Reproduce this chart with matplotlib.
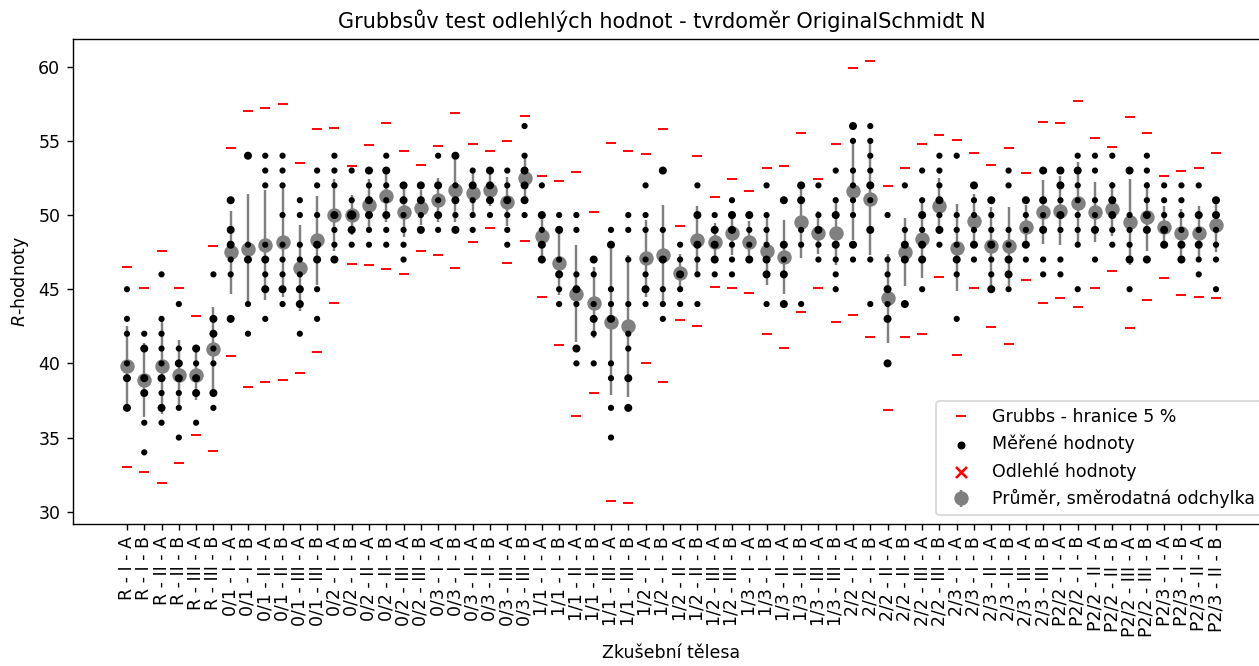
import numpy as np
import matplotlib
matplotlib.use("Agg")
import matplotlib.pyplot as plt

# Category labels (specimen - layer - side)
groups = ["R", "0/1", "0/2", "0/3", "1/1", "1/2", "1/3", "2/2", "2/3", "P2/2", "P2/3"]
positions = ["I - A", "I - B", "II - A", "II - B", "III - A", "III - B"]
labels = [f"{g} - {p}" for g in groups[:-1] for p in positions] + \
         [f"{groups[-1]} - {p}" for p in positions[:4]]

# measured R values (unique) and how many times each was hit
values = [
    [45, 43, 42, 40, 39, 37], [42, 41, 39, 38, 36, 34], [46, 43, 42, 41, 40, 39, 38, 37, 36],
    [44, 41, 40, 39, 38, 37, 35], [41, 40, 39, 38, 36], [46, 43, 42, 41, 40, 38, 37],
    [51, 49, 48, 47, 46, 43], [54, 48, 47, 44, 42], [54, 53, 52, 48, 47, 46, 45, 43],
    [54, 53, 52, 50, 48, 47, 46, 45, 44], [51, 50, 48, 47, 46, 45, 44, 42], [53, 52, 50, 48, 47, 45, 43],
    [54, 53, 52, 50, 49, 48, 47], [53, 51, 50, 49, 48], [53, 52, 51, 50, 49, 48],
    [54, 53, 52, 51, 50, 49, 48], [52, 51, 50, 49, 48, 47], [52, 51, 50, 49],
    [54, 52, 51, 50, 49], [54, 52, 51, 50, 49], [53, 52, 51, 50, 49],
    [53, 52, 51, 50], [53, 52, 51, 50, 49, 48], [56, 54, 53, 52, 51, 50],
    [52, 50, 49, 48, 47], [50, 49, 47, 46, 45, 44], [50, 49, 46, 45, 44, 41, 40],
    [47, 46, 44, 43, 42, 40], [49, 48, 45, 44, 43, 40, 39, 37, 35], [50, 49, 47, 44, 42, 41, 39, 37],
    [52, 50, 49, 47, 46, 45, 44], [53, 49, 47, 45, 44, 43], [48, 47, 46, 45, 44],
    [52, 50, 48, 47, 46, 44], [50, 49, 48, 47, 46], [51, 50, 49, 48, 47, 46],
    [50, 49, 48, 47], [52, 50, 49, 48, 47, 46, 44], [51, 48, 47, 46, 44],
    [52, 51, 49, 48, 44], [52, 50, 49, 48, 47], [53, 51, 50, 48, 47, 46, 45],
    [56, 55, 53, 52, 51, 50, 48, 47], [56, 55, 54, 53, 52, 51, 49, 47, 44], [50, 47, 46, 45, 44, 43, 40],
    [52, 49, 48, 47, 44], [53, 51, 50, 49, 48, 47, 45], [54, 53, 52, 51, 50, 49, 48],
    [54, 50, 49, 48, 47, 46, 43], [52, 51, 50, 49, 48, 47], [51, 50, 49, 48, 47, 46, 45],
    [53, 52, 49, 48, 47, 46, 45], [51, 50, 49, 48, 47], [53, 51, 50, 49, 47, 46],
    [53, 52, 51, 50, 49, 47, 46], [54, 53, 52, 51, 50, 49, 48, 45], [54, 53, 51, 50, 49, 47],
    [54, 52, 51, 50, 49, 48], [53, 50, 49, 48, 47, 45], [54, 53, 52, 51, 50, 49, 47],
    [52, 51, 50, 49, 48], [52, 51, 50, 49, 48, 47], [52, 50, 49, 48, 47, 46],
    [51, 50, 49, 48, 47, 45],
]
counts = [
    [1, 1, 1, 1, 2, 2], [1, 2, 2, 2, 1, 1], [1, 1, 1, 1, 1, 2, 1, 2, 1],
    [1, 1, 2, 2, 1, 1, 1], [2, 1, 2, 2, 1], [1, 2, 2, 1, 1, 2, 1],
    [2, 2, 2, 1, 1, 2], [2, 1, 2, 1, 1], [1, 1, 1, 1, 2, 1, 2, 1],
    [1, 1, 1, 1, 1, 1, 1, 2, 1], [1, 1, 1, 1, 1, 2, 2, 1], [1, 1, 1, 2, 2, 1, 1],
    [1, 1, 1, 2, 1, 1, 2], [1, 1, 3, 2, 1], [2, 1, 2, 2, 1, 1],
    [1, 2, 1, 1, 2, 1, 1], [2, 2, 1, 1, 1, 1], [2, 2, 1, 2],
    [1, 2, 1, 2, 1], [2, 1, 2, 1, 2], [1, 2, 1, 1, 1],
    [2, 2, 2, 1], [1, 1, 2, 1, 1, 1], [1, 1, 2, 2, 2, 1],
    [1, 2, 1, 2, 2], [1, 2, 1, 2, 1, 1], [1, 1, 1, 2, 1, 2, 1],
    [2, 1, 1, 2, 1, 1], [1, 2, 1, 1, 2, 1, 1, 1, 1], [1, 1, 1, 1, 1, 1, 2, 2],
    [1, 1, 1, 1, 1, 2, 1], [2, 1, 2, 1, 1, 1], [1, 1, 2, 1, 1],
    [1, 2, 2, 1, 1, 1], [1, 2, 2, 2, 1], [1, 2, 2, 1, 1, 1],
    [2, 1, 1, 2], [1, 1, 1, 1, 2, 2, 1], [2, 2, 1, 2, 2],
    [2, 2, 1, 1, 1], [1, 1, 2, 1, 1], [1, 1, 2, 2, 1, 1, 1],
    [2, 1, 1, 1, 1, 1, 2, 1], [1, 1, 1, 1, 2, 1, 2, 1, 1], [1, 1, 1, 2, 1, 2, 2],
    [1, 1, 2, 2, 2], [1, 1, 2, 1, 2, 2, 1], [1, 1, 1, 2, 1, 2, 1],
    [1, 1, 1, 1, 2, 1, 1], [2, 1, 1, 1, 2, 1], [2, 1, 1, 2, 1, 1, 2],
    [1, 1, 1, 1, 2, 2, 1], [2, 1, 1, 2, 1], [2, 2, 1, 2, 1, 1],
    [2, 2, 1, 2, 1, 1, 1], [1, 2, 1, 1, 1, 1, 1, 1], [1, 1, 1, 1, 2, 1],
    [1, 1, 2, 2, 1, 1], [2, 1, 1, 1, 2, 1], [1, 1, 1, 1, 2, 2, 2],
    [1, 1, 1, 2, 2], [1, 1, 1, 1, 2, 2], [1, 2, 1, 2, 1, 1],
    [2, 2, 1, 1, 1, 1],
]

means = [39.8, 38.9, 39.8, 39.2, 39.2, 41.0, 47.5, 47.7, 48.0, 48.2, 46.4, 48.3,
         50.0, 50.0, 50.7, 51.3, 50.2, 50.5, 51.0, 51.7, 51.5, 51.7, 50.9, 52.5,
         48.6, 46.8, 44.7, 44.1, 42.8, 42.5, 47.1, 47.3, 46.1, 48.3, 48.2, 48.8,
         48.2, 47.6, 47.2, 49.5, 48.8, 48.8, 51.6, 51.1, 44.4, 47.5, 48.4, 50.6,
         47.8, 49.6, 47.9, 47.9, 49.2, 50.2, 50.3, 50.8, 50.2, 50.4, 49.5, 49.9,
         49.2, 48.8, 48.8, 49.3]
stds = [2.7, 2.5, 3.2, 2.35, 1.7, 2.8, 2.8, 3.7, 3.7, 3.7, 2.9, 3.0,
        2.4, 1.35, 1.7, 1.8, 1.7, 1.2, 1.5, 2.2, 1.35, 1.1, 1.65, 1.7,
        1.4, 2.2, 3.25, 2.4, 4.9, 4.8, 2.6, 3.35, 1.3, 2.3, 1.25, 1.5,
        1.4, 2.3, 2.5, 2.4, 1.45, 2.2, 3.25, 3.8, 3.0, 2.3, 2.65, 1.9,
        2.95, 1.8, 2.65, 2.65, 1.45, 2.15, 2.35, 2.8, 2.05, 1.8, 2.9, 2.3,
        1.4, 1.6, 1.8, 1.8]
grubbs_hi = [46.5, 45.1, 47.55, 45.1, 43.2, 47.9, 54.5, 57.0, 57.2, 57.5, 53.5, 55.8,
             55.9, 53.3, 54.7, 56.2, 54.3, 53.4, 54.65, 56.9, 54.8, 54.3, 55.0, 56.7,
             52.6, 52.3, 52.9, 50.2, 54.85, 54.35, 54.1, 55.8, 49.25, 54.0, 51.25, 52.45,
             51.65, 53.15, 53.3, 55.55, 52.45, 54.8, 59.9, 60.4, 51.95, 53.2, 54.8, 55.4,
             55.05, 54.15, 53.4, 54.5, 52.85, 56.3, 56.2, 57.7, 55.2, 54.6, 56.6, 55.5,
             52.65, 52.95, 53.15, 54.2]
grubbs_lo = [33.0, 32.65, 31.95, 33.25, 35.15, 34.1, 40.5, 38.4, 38.75, 38.9, 39.35, 40.75,
             44.05, 46.7, 46.65, 46.35, 46.05, 47.55, 47.3, 46.45, 48.2, 49.1, 46.8, 48.25,
             44.5, 41.25, 36.45, 38.0, 30.7, 30.6, 40.05, 38.75, 42.9, 42.55, 45.15, 45.1,
             44.75, 42.0, 41.05, 43.45, 45.1, 42.8, 43.25, 41.75, 36.85, 41.75, 42.0, 45.8,
             40.55, 45.05, 42.45, 41.3, 45.6, 44.05, 44.4, 43.8, 45.1, 46.2, 42.4, 44.25,
             45.75, 44.6, 44.5, 44.4]

x = np.arange(len(labels))

fig = plt.figure(figsize=(1259 / 125, 666 / 125), dpi=125)
# axes runs past the right edge, like the cropped original
ax = fig.add_axes([0.0576, 0.2132, 0.9515, 0.7287])

eb = ax.errorbar(x, means, yerr=stds, fmt='o', color='gray', ms=7.3, elinewidth=1.4,
                 capsize=0, zorder=2, label='Průměr, směrodatná odchylka')
gl, = ax.plot(x, grubbs_hi, 'r_', ls='none', ms=6, mew=1.1, zorder=3, label='Grubbs - hranice 5 %')
ax.plot(x, grubbs_lo, 'r_', ls='none', ms=6, mew=1.1, zorder=3)

px, py, ps = [], [], []
for i in range(len(labels)):
    for v, c in zip(values[i], counts[i]):
        px.append(x[i])
        py.append(v)
        ps.append(6.5 * c)
sc = ax.scatter(px, py, s=ps, color='black', zorder=4, label='Měřené hodnoty')
out = ax.scatter([], [], s=40, marker='x', color='red', label='Odlehlé hodnoty')

ax.legend(handles=[gl, sc, out, eb], loc='lower right')

ax.set_xticks(x)
ax.set_xticklabels(labels, rotation=90)
ax.set_xlim(-3.15, 66.15)
ax.set_ylim(29.17, 61.89)
ax.set_xlabel('Zkušební tělesa')
ax.set_ylabel('$R$-hodnoty')
ax.set_title('Grubbsův test odlehlých hodnot - tvrdoměr OriginalSchmidt N', x=0.4917)

fig.savefig('out.png', dpi=125)
